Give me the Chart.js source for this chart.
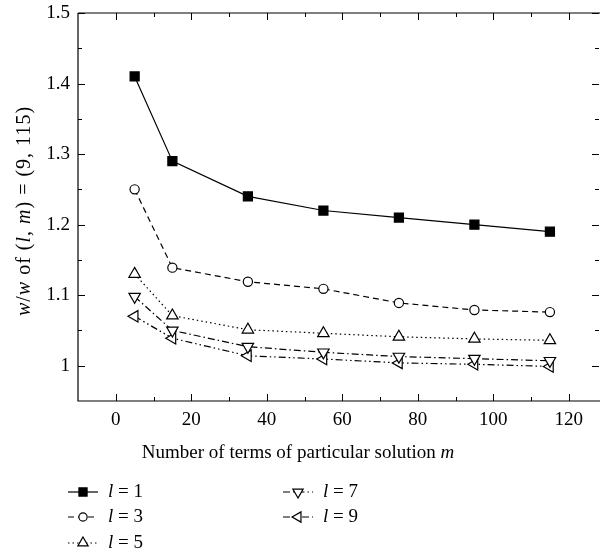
<!DOCTYPE html>
<html>
<head>
<meta charset="utf-8">
<script src="https://cdn.jsdelivr.net/npm/chart.js@4.4.1/dist/chart.umd.min.js"></script>
<style>
html,body{margin:0;padding:0;background:#fff;}
#wrap{width:600px;height:556px;position:relative;}
</style>
</head>
<body>
<div id="wrap"><canvas id="c" width="600" height="556"></canvas></div>
<script>
const xValues = [5, 15, 35, 55, 75, 95, 115];
const l1 = [1.41, 1.29, 1.24, 1.22, 1.21, 1.20, 1.19];
const l3 = [1.25, 1.139, 1.119, 1.109, 1.089, 1.079, 1.076];
const l5 = [1.13, 1.071, 1.051, 1.046, 1.041, 1.038, 1.036];
const l7 = [1.098, 1.05, 1.027, 1.019, 1.013, 1.010, 1.007];
const l9 = [1.07, 1.039, 1.014, 1.0095, 1.004, 1.002, 0.999];
const seriesLabels = ['1', '3', '5', '7', '9'];
const xTicks = [0, 20, 40, 60, 80, 100, 120];
const xMinor = [10, 30, 50, 70, 90, 110];
const yTicks = [1.0, 1.1, 1.2, 1.3, 1.4, 1.5];
const yMinor = [1.05, 1.15, 1.25, 1.35, 1.45];

const FONT = 'Liberation Serif';
const FS = 19;

const styles = [
  {dash: [], pt: 'rect', r: 6.4, fill: '#000'},
  {dash: [6, 4], pt: 'circle', r: 4.6, fill: '#fff'},
  {dash: [1.5, 3], pt: 'triangle', r: 6.6, fill: '#fff', rot: 0},
  {dash: [7, 3, 1.5, 3], pt: 'triangle', r: 6.6, fill: '#fff', rot: 180},
  {dash: [7, 3, 1.5, 3, 1.5, 3], pt: 'triangle', r: 6.6, fill: '#fff', rot: -90}
];
const allSeries = [l1, l3, l5, l7, l9];

const datasets = allSeries.map((s, i) => ({
  label: 'l = ' + seriesLabels[i],
  data: xValues.map((x, j) => ({x: x, y: s[j]})),
  borderColor: '#000',
  borderWidth: 1.2,
  borderDash: styles[i].dash,
  pointStyle: styles[i].pt,
  pointRadius: styles[i].r,
  pointHoverRadius: styles[i].r,
  pointRotation: styles[i].rot || 0,
  pointBackgroundColor: styles[i].fill,
  pointBorderColor: '#000',
  pointBorderWidth: 1.2,
  tension: 0,
  fill: false
}));

function drawSegments(ctx, segs, cx, cy, fs) {
  fs = fs || FS;
  let total = 0;
  segs.forEach(s => {
    ctx.font = (s[1] ? 'italic ' : '') + fs + 'px "' + FONT + '"';
    total += ctx.measureText(s[0]).width;
  });
  let x = cx - total / 2;
  segs.forEach(s => {
    ctx.font = (s[1] ? 'italic ' : '') + fs + 'px "' + FONT + '"';
    ctx.fillText(s[0], x, cy);
    x += ctx.measureText(s[0]).width;
  });
}

const axesPlugin = {
  id: 'axesPlugin',
  afterDraw(chart) {
    const ctx = chart.ctx;
    const a = chart.chartArea;
    const xs = chart.scales.x, ys = chart.scales.y;
    ctx.save();
    ctx.strokeStyle = '#000';
    ctx.lineWidth = 1.2;
    ctx.setLineDash([]);
    ctx.beginPath();
    ctx.moveTo(a.left, a.top); ctx.lineTo(a.left, a.bottom); ctx.lineTo(a.right + 1, a.bottom);
    ctx.moveTo(a.left, a.top); ctx.lineTo(a.right + 1, a.top);
    ctx.stroke();
    ctx.lineWidth = 1;
    const MAJ = 7, MIN = 4;
    ctx.beginPath();
    xTicks.forEach(v => { const p = Math.round(xs.getPixelForValue(v)) + 0.5;
      ctx.moveTo(p, a.bottom); ctx.lineTo(p, a.bottom - MAJ);
      ctx.moveTo(p, a.top); ctx.lineTo(p, a.top + MAJ); });
    xMinor.forEach(v => { const p = Math.round(xs.getPixelForValue(v)) + 0.5;
      ctx.moveTo(p, a.bottom); ctx.lineTo(p, a.bottom - MIN);
      ctx.moveTo(p, a.top); ctx.lineTo(p, a.top + MIN); });
    yTicks.forEach(v => { const p = Math.round(ys.getPixelForValue(v)) + 0.5;
      ctx.moveTo(a.left, p); ctx.lineTo(a.left + MAJ, p);
      ctx.moveTo(a.right, p); ctx.lineTo(a.right - MAJ, p); });
    yMinor.forEach(v => { const p = Math.round(ys.getPixelForValue(v)) + 0.5;
      ctx.moveTo(a.left, p); ctx.lineTo(a.left + MIN, p);
      ctx.moveTo(a.right, p); ctx.lineTo(a.right - MIN, p); });
    ctx.stroke();

    ctx.fillStyle = '#000';
    ctx.textBaseline = 'middle';
    ctx.textAlign = 'left';
    drawSegments(ctx, [['Number of terms of particular solution ', false], ['m', true]], 298, 453);
    ctx.save();
    ctx.translate(25, 211);
    ctx.rotate(-Math.PI / 2);
    ctx.letterSpacing = '1px';
    drawSegments(ctx, [['w', true], ['/', false], ['w', true], [' of (', false], ['l', true], [', ', false], ['m', true], [') = (9, 115)', false]], 0, 0, 20);
    ctx.letterSpacing = '0px';
    ctx.restore();

    const pos = [[68, 492], [68, 517], [68, 543], [283, 492], [283, 517]];
    chart.data.datasets.forEach((ds, i) => {
      const [lx, ly] = pos[i];
      ctx.save();
      ctx.strokeStyle = '#000';
      ctx.lineWidth = 1.2;
      ctx.setLineDash(ds.borderDash);
      ctx.beginPath();
      ctx.moveTo(lx, ly); ctx.lineTo(lx + 30, ly);
      ctx.stroke();
      ctx.setLineDash([]);
      ctx.fillStyle = ds.pointBackgroundColor;
      Chart.helpers.drawPoint(ctx, {pointStyle: ds.pointStyle, radius: ds.pointRadius * 0.9, rotation: ds.pointRotation, borderWidth: 1.2}, lx + 15, ly);
      ctx.restore();
      ctx.fillStyle = '#000';
      ctx.textAlign = 'left';
      ctx.textBaseline = 'middle';
      ctx.font = 'italic ' + FS + 'px "' + FONT + '"';
      const tx = lx + 40;
      ctx.fillText('l', tx, ly);
      const w = ctx.measureText('l').width;
      ctx.font = FS + 'px "' + FONT + '"';
      ctx.fillText(' = ' + seriesLabels[i], tx + w, ly);
    });
    ctx.restore();
  }
};

new Chart(document.getElementById('c'), {
  type: 'line',
  data: {datasets: datasets},
  options: {
    responsive: false,
    animation: false,
    events: [],
    layout: {autoPadding: false, padding: {left: 0, right: 1, top: 13, bottom: 100}},
    plugins: {legend: {display: false}, tooltip: {enabled: false}},
    scales: {
      x: {
        type: 'linear', min: -10, max: 128,
        grid: {display: false, drawTicks: false},
        border: {display: false},
        afterBuildTicks: s => { s.ticks = xTicks.map(v => ({value: v})); },
        afterFit: s => { s.height = 55; s.paddingLeft = 0; s.paddingRight = 0; },
        ticks: {padding: 8, color: '#000', font: {family: FONT, size: FS}, maxRotation: 0,
          callback: v => String(v)}
      },
      y: {
        type: 'linear', min: 0.95, max: 1.5,
        grid: {display: false, drawTicks: false},
        border: {display: false},
        afterBuildTicks: s => { s.ticks = yTicks.map(v => ({value: v})); },
        afterFit: s => { s.width = 78; s.paddingTop = 0; s.paddingBottom = 0; },
        ticks: {padding: 8, color: '#000', font: {family: FONT, size: FS},
          callback: v => (Math.abs(v - 1) < 1e-9 ? '1' : v.toFixed(1))}
      }
    }
  },
  plugins: [axesPlugin]
});
</script>
</body>
</html>
